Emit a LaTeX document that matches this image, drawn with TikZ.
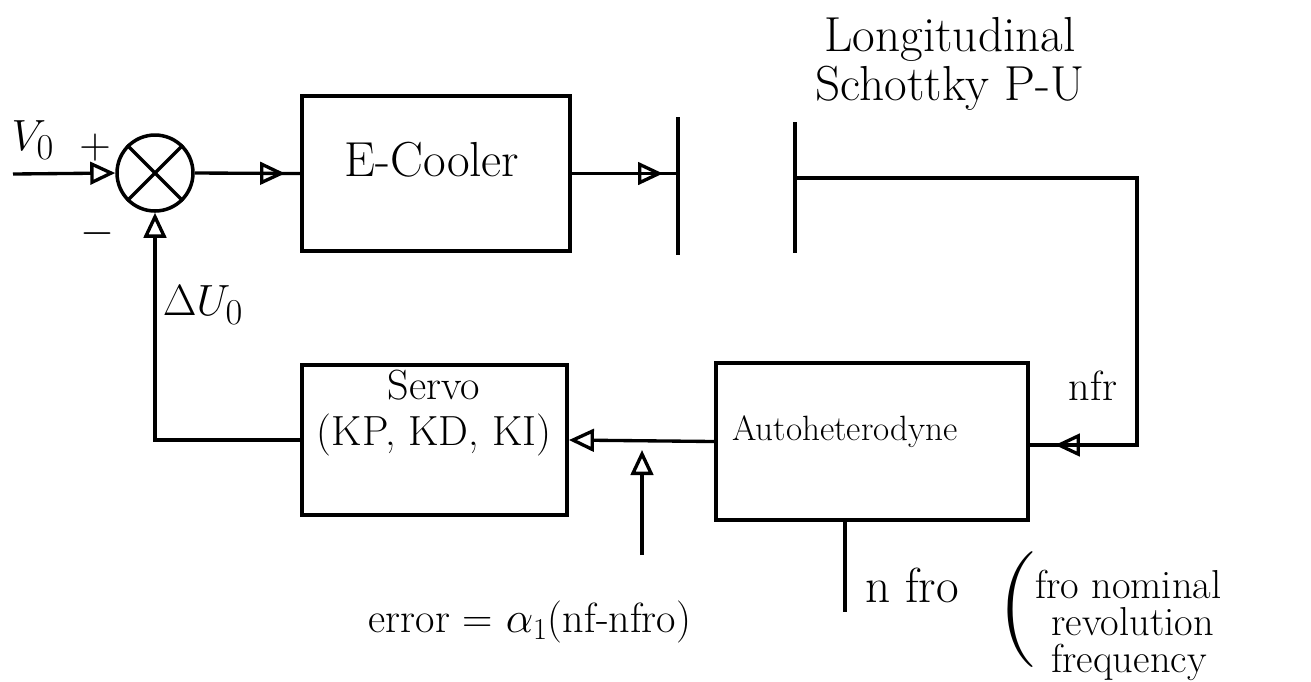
\documentclass[tikz,border=0pt]{standalone}
\usetikzlibrary{arrows.meta,decorations.markings}
\begin{document}
\begin{tikzpicture}[x=0.02cm,y=-0.02cm,
  wire/.style={line width=1.9pt},
  blk/.style={draw,line width=2.2pt,inner sep=0pt},
  oa/.style={-{Triangle[open,length=0.5cm,width=0.45cm,line width=1.9pt]}},
  midtip/.style={postaction={decorate},decoration={markings,mark=at position #1 with {\arrow[line width=1.9pt]{Triangle[open,length=0.5cm,width=0.45cm]}}}},
  big/.style={font=\fontsize{28}{32}\selectfont,inner sep=0pt},
  mid/.style={font=\fontsize{24}{28}\selectfont,inner sep=0pt},
  small/.style={font=\fontsize{23}{26}\selectfont,inner sep=0pt},
]
\useasboundingbox (0,0) rectangle (1311,681);
% summing junction
\node[draw,circle,line width=2pt,minimum size=1.52cm,inner sep=0pt] (sum) at (155,173) {};
\draw[wire] (sum.north east) -- (sum.south west) (sum.north west) -- (sum.south east);
% blocks
\node[blk,minimum width=5.36cm,minimum height=3.1cm] (ecool) at (436,173.5) {};
\node[big] (ecooltxt) at (432,160) {E-Cooler};
\node[blk,minimum width=5.3cm,minimum height=3cm] (servo) at (434.5,440) {};
\node[mid,align=center] (servotxt) at (434,413) {Servo\\[-2pt](KP, KD, KI)};
\node[blk,minimum width=6.24cm,minimum height=3.14cm] (auto) at (872,441.5) {};
\node[font=\fontsize{20}{24}\selectfont,inner sep=0pt] (autotxt) at (845,432) {Autoheterodyne};
% pick-up plates
\coordinate (p1t) at (678,117); \coordinate (p1b) at (678,255);
\coordinate (p2t) at (795,122); \coordinate (p2b) at (795,253);
\draw[line width=2.4pt] (p1t) -- (p1b);
\draw[line width=2.4pt] (p2t) -- (p2b);
% input
\coordinate (vin) at (13,174);
\draw[wire,oa] (vin) -- (sum.west);
\node[big] (v0) at (33,140) {$V_0$};
\node[big] (plus) at (95,148) {$+$};
\node[big] (minus) at (97,234) {$-$};
% forward path
\draw[wire,midtip=-0.3cm] (sum.east) -- (ecool.west);
\draw[wire,midtip=-0.3cm] (ecool.east) -- (ecool.east -| p1t);
% pickup to autoheterodyne
\coordinate (rc) at (1137,445);
\draw[wire,midtip=-0.5cm] (p2t |- 0,178) -| (rc) -- (auto.east |- rc);
\node[mid] (nfr) at (1093,386) {nfr};
% autoheterodyne to servo
\draw[wire,oa] (auto.west) -- (servo.east);
% feedback
\draw[wire,oa] (servo.west) -| (sum.south);
\node[big] (du0) at (203,305) {$\Delta U_0$};
% error arrow
\coordinate (eb) at (642,555); \coordinate (et) at (642,450);
\draw[wire,oa] (eb) -- (et);
\node[mid] (err) at (530,622) {error = $\alpha_1$(nf-nfro)};
% nominal frequency input
\coordinate (nb) at (845,612);
\draw[wire] (auto.south -| nb) -- (nb);
\node[big] (nfro) at (912,585) {n fro};
\node[font=\fontsize{66}{66}\selectfont,inner sep=0pt] (par) at (1018,610) {(};
\node[small,anchor=north west,align=left] (note) at (1035,570) {fro nominal\\[-5pt]\hspace*{0.4em}revolution\\[-5pt]\hspace*{0.4em}frequency};
% title
\node[font=\fontsize{28}{30}\selectfont,inner sep=0pt,align=center] (lsp) at (950,64) {Longitudinal\\[-2pt]Schottky P-U};
\end{tikzpicture}
\end{document}
